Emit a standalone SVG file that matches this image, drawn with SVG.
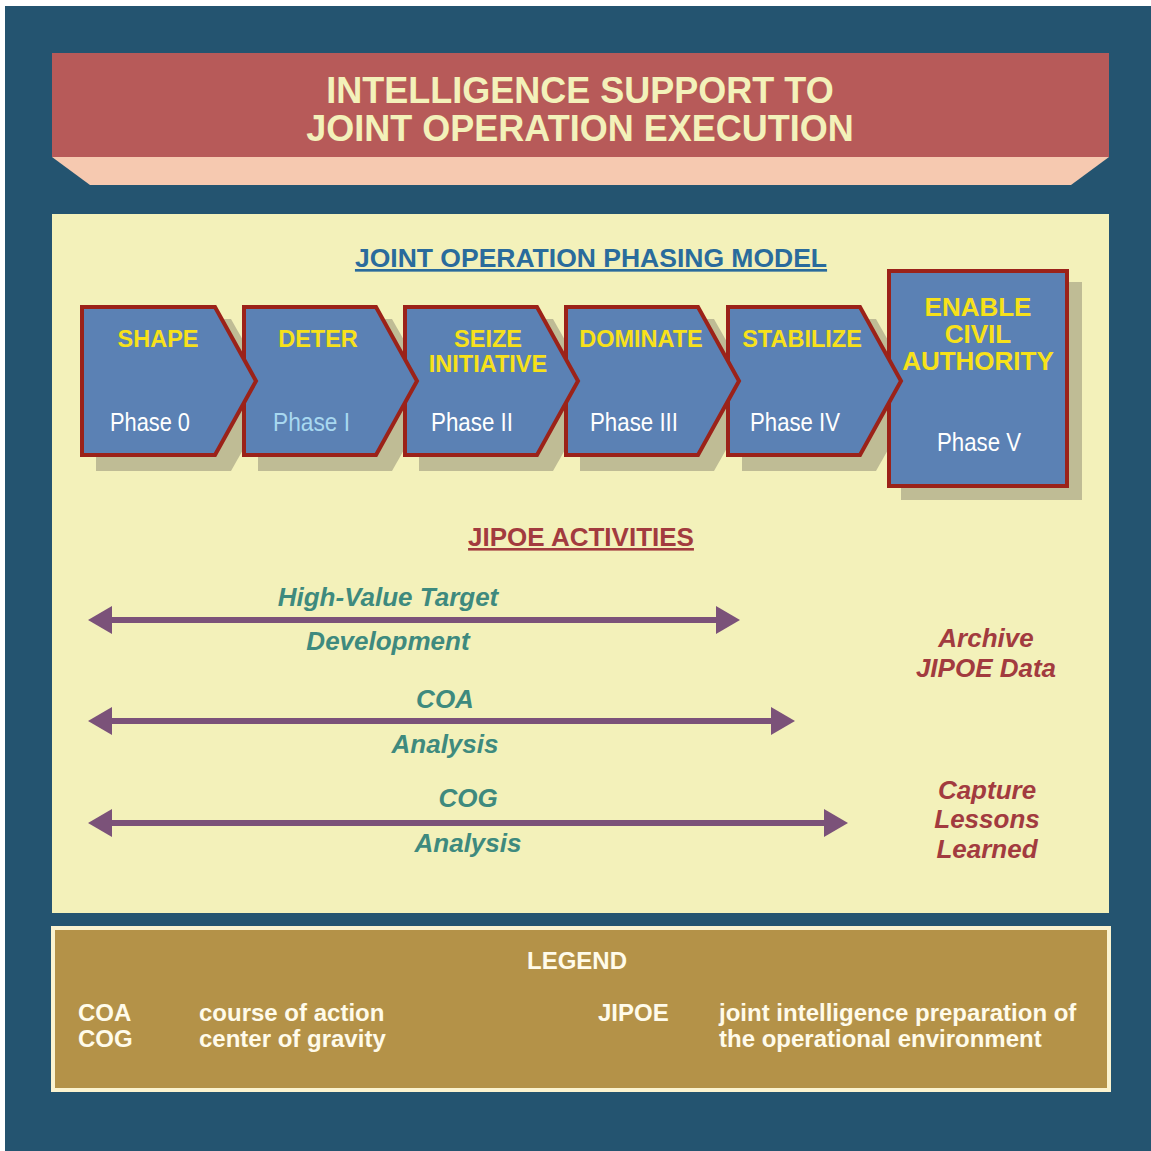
<svg xmlns="http://www.w3.org/2000/svg" width="1151" height="1151" viewBox="0 0 1151 1151">
<style>
.b{font-family:"Liberation Sans",Arial,sans-serif;font-weight:bold}
.ttl{fill:#F3F1BA;font-size:36px}
.box{fill:#5B81B4;stroke:#9B2219;stroke-width:4;stroke-linejoin:miter}
.sh{fill:#BFBC95}
.lab{fill:#F7E11A;font-size:23.5px}
.big{font-size:26px}
.ph{font-family:"Liberation Sans",Arial,sans-serif;font-size:25px;fill:#FFFFFF}
.act{fill:#3E8A7E;font-size:26px;font-style:italic}
.rd{fill:#A23B3F;font-size:26px;font-style:italic}
.lg{fill:#FFFBEA;font-size:24px}
.arr{stroke:#7B5279;stroke-width:6;fill:none}
</style>
<defs>
<marker id="ah" viewBox="0 0 24 28" refX="1" refY="14" markerWidth="24" markerHeight="28" markerUnits="userSpaceOnUse" orient="auto-start-reverse">
<path d="M0,0 L24,14 L0,28 Z" fill="#7B5279"/>
</marker>
</defs>
<rect x="5" y="6" width="1146" height="1145" fill="#245470"/>
<g id="title">
<rect x="52" y="53" width="1057" height="104" fill="#B75A59"/>
<polygon points="52,157 1109,157 1071,185 90,185" fill="#F6C9B0"/>
<text class="b ttl" x="580" y="103" text-anchor="middle">INTELLIGENCE SUPPORT TO</text>
<text class="b ttl" x="580" y="141" text-anchor="middle">JOINT OPERATION EXECUTION</text>
</g>
<rect x="52" y="214" width="1057" height="699" fill="#F3F1BA"/>
<text class="b" x="591" y="267" text-anchor="middle" font-size="26.5" fill="#2A6B9C" text-decoration="underline">JOINT OPERATION PHASING MODEL</text>
<g id="shadows">
<polygon class="sh" points="96,319 231,319 274,395 231,471 96,471"/>
<polygon class="sh" points="258,319 392,319 435,395 392,471 258,471"/>
<polygon class="sh" points="419,319 553,319 596,395 553,471 419,471"/>
<polygon class="sh" points="580,319 714,319 757,395 714,471 580,471"/>
<polygon class="sh" points="742,319 876,319 919,395 876,471 742,471"/>
<rect class="sh" x="901" y="282" width="181" height="218"/>
</g>
<g id="phase5">
<rect class="box" x="889" y="271" width="178" height="215"/>
<text class="b lab big" x="978" y="316" text-anchor="middle">ENABLE</text>
<text class="b lab big" x="978" y="343" text-anchor="middle">CIVIL</text>
<text class="b lab big" x="978" y="370" text-anchor="middle">AUTHORITY</text>
<text class="ph" x="937" y="451" textLength="84" lengthAdjust="spacingAndGlyphs">Phase V</text>
</g>
<g id="phase4">
<polygon class="box" points="728,307 860,307 901,381 860,455 728,455"/>
<text class="b lab" x="802" y="347" text-anchor="middle">STABILIZE</text>
<text class="ph" x="750" y="431" textLength="90" lengthAdjust="spacingAndGlyphs">Phase IV</text>
</g>
<g id="phase3">
<polygon class="box" points="566,307 698,307 739,381 698,455 566,455"/>
<text class="b lab" x="641" y="347" text-anchor="middle">DOMINATE</text>
<text class="ph" x="590" y="431" textLength="88" lengthAdjust="spacingAndGlyphs">Phase III</text>
</g>
<g id="phase2">
<polygon class="box" points="405,307 537,307 578,381 537,455 405,455"/>
<text class="b lab" x="488" y="347" text-anchor="middle">SEIZE</text>
<text class="b lab" x="488" y="372" text-anchor="middle">INITIATIVE</text>
<text class="ph" x="431" y="431" textLength="82" lengthAdjust="spacingAndGlyphs">Phase II</text>
</g>
<g id="phase1">
<polygon class="box" points="244,307 376,307 417,381 376,455 244,455"/>
<text class="b lab" x="318" y="347" text-anchor="middle">DETER</text>
<text class="ph" x="273" y="431" textLength="77" lengthAdjust="spacingAndGlyphs" style="fill:#A8D8F0">Phase I</text>
</g>
<g id="phase0">
<polygon class="box" points="82,307 215,307 256,381 215,455 82,455"/>
<text class="b lab" x="158" y="347" text-anchor="middle">SHAPE</text>
<text class="ph" x="110" y="431" textLength="80" lengthAdjust="spacingAndGlyphs">Phase 0</text>
</g>
<text class="b" x="581" y="546" text-anchor="middle" font-size="26" fill="#A23B3F" text-decoration="underline">JIPOE ACTIVITIES</text>
<g id="connectors">
<line class="arr" x1="111" y1="620" x2="717" y2="620" marker-start="url(#ah)" marker-end="url(#ah)"/>
<line class="arr" x1="111" y1="721" x2="772" y2="721" marker-start="url(#ah)" marker-end="url(#ah)"/>
<line class="arr" x1="111" y1="823" x2="825" y2="823" marker-start="url(#ah)" marker-end="url(#ah)"/>
</g>
<g id="activity-labels">
<text class="b act" x="388" y="606" text-anchor="middle">High-Value Target</text>
<text class="b act" x="388" y="650" text-anchor="middle">Development</text>
<text class="b act" x="445" y="708" text-anchor="middle">COA</text>
<text class="b act" x="445" y="753" text-anchor="middle">Analysis</text>
<text class="b act" x="468" y="807" text-anchor="middle">COG</text>
<text class="b act" x="468" y="852" text-anchor="middle">Analysis</text>
</g>
<g id="archive">
<text class="b rd" x="986" y="647" text-anchor="middle">Archive</text>
<text class="b rd" x="986" y="677" text-anchor="middle">JIPOE Data</text>
</g>
<g id="lessons">
<text class="b rd" x="987" y="799" text-anchor="middle">Capture</text>
<text class="b rd" x="987" y="828" text-anchor="middle">Lessons</text>
<text class="b rd" x="987" y="858" text-anchor="middle">Learned</text>
</g>
<g id="legend">
<rect x="53" y="928" width="1056" height="162" fill="#B49248" stroke="#FBF3CF" stroke-width="4"/>
<text class="b lg big" x="577" y="969" text-anchor="middle">LEGEND</text>
<text class="b lg" x="78" y="1021">COA</text>
<text class="b lg" x="78" y="1047">COG</text>
<text class="b lg" x="199" y="1021">course of action</text>
<text class="b lg" x="199" y="1047">center of gravity</text>
<text class="b lg" x="598" y="1021">JIPOE</text>
<text class="b lg" x="719" y="1021">joint intelligence preparation of</text>
<text class="b lg" x="719" y="1047">the operational environment</text>
</g>
</svg>
